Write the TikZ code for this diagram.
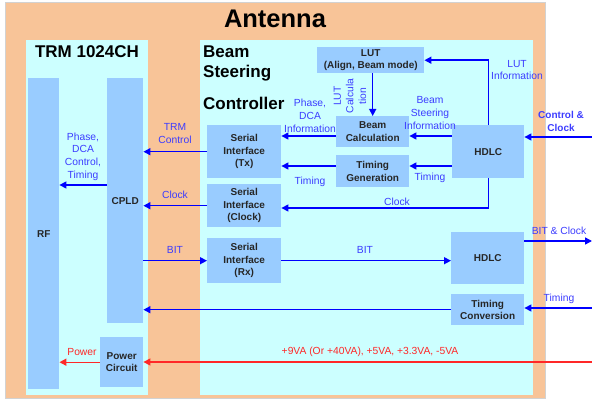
\documentclass[tikz,border=0pt]{standalone}
\usepackage{fontspec}
\setmainfont{Liberation Sans}
\usetikzlibrary{arrows.meta}
\definecolor{antorange}{RGB}{248,196,152}
\definecolor{pcyan}{RGB}{204,255,255}
\definecolor{boxblue}{RGB}{153,204,255}
\definecolor{arrblue}{RGB}{0,0,255}
\definecolor{lblblue}{RGB}{60,60,255}
\definecolor{pwred}{RGB}{255,40,40}
\begin{document}
\begin{tikzpicture}[x=1pt,y=-1pt,
  blk/.style={fill=boxblue, draw=none, font=\bfseries\fontsize{10}{12.5}\selectfont, align=center, inner sep=0pt, anchor=north west, text=black!85},
  lbl/.style={text=lblblue, font=\fontsize{10.3}{12.7}\selectfont, align=center, inner sep=0pt},
  rlbl/.style={text=pwred, font=\fontsize{10.3}{12.7}\selectfont, align=center, inner sep=0pt},
  arr/.style={draw=arrblue, line width=1.4pt, -{Triangle[length=7pt,width=7pt]}},
  rarr/.style={draw=pwred, line width=1.4pt, -{Triangle[length=7pt,width=7pt]}},
]
\useasboundingbox (0,0) rectangle (592,401);
% containers
\node[fill=antorange, draw=gray!35, line width=0.8pt, anchor=north west, minimum width=540pt, minimum height=396pt, inner sep=0pt] (ant) at (5,2) {};
\node[font=\bfseries\fontsize{25.5}{28}\selectfont, inner sep=0pt] (anttitle) at (275,19) {Antenna};
\node[fill=pcyan, anchor=north west, minimum width=122pt, minimum height=355pt, inner sep=0pt] (trm) at (26,40) {};
\node[font=\bfseries\fontsize{17}{20}\selectfont, inner sep=0pt] (trmtitle) at (87,52) {TRM 1024CH};
\node[fill=pcyan, anchor=north west, minimum width=333pt, minimum height=355pt, inner sep=0pt] (bsc) at (200,40) {};
\node[font=\bfseries\fontsize{17}{20}\selectfont, inner sep=0pt, anchor=west] (bsc1) at (203,52) {Beam};
\node[font=\bfseries\fontsize{17}{20}\selectfont, inner sep=0pt, anchor=west] (bsc2) at (203,73) {Steering};
\node[font=\bfseries\fontsize{17}{20}\selectfont, inner sep=0pt, anchor=west] (bsc3) at (203,103) {Controller};
% blocks
\node[blk, minimum width=31pt, minimum height=311pt] (rf) at (28,78) {RF};
\node[blk, minimum width=36pt, minimum height=245pt] (cpld) at (107,78) {CPLD};
\node[blk, minimum width=43pt, minimum height=50pt] (pwr) at (100,337) {Power\\Circuit};
\node[blk, minimum width=74pt, minimum height=53pt] (sitx) at (207,125) {Serial\\Interface\\(Tx)};
\node[blk, minimum width=74pt, minimum height=43pt] (siclk) at (207,184) {Serial\\Interface\\(Clock)};
\node[blk, minimum width=74pt, minimum height=45pt] (sirx) at (207,238) {Serial\\Interface\\(Rx)};
\node[blk, minimum width=107pt, minimum height=26pt] (lut) at (317,47) {LUT\\(Align, Beam mode)};
\node[blk, minimum width=73pt, minimum height=31pt] (beam) at (336,116) {Beam\\Calculation};
\node[blk, minimum width=73pt, minimum height=32pt] (tgen) at (336,155) {Timing\\Generation};
\node[blk, minimum width=72pt, minimum height=53pt] (hdlcA) at (452,125) {HDLC};
\node[blk, minimum width=73pt, minimum height=52pt] (hdlcB) at (451,232) {HDLC};
\node[blk, minimum width=73pt, minimum height=31pt] (tconv) at (451,294) {Timing\\Conversion};
% helper coordinates
\coordinate (ccin) at (592,137);
\coordinate (yb) at (0,136);
\coordinate (yt) at (0,166);
\coordinate (yc) at (0,208);
\coordinate (yrf) at (0,185);
\coordinate (bitout) at (592,241);
\coordinate (tin) at (592,308);
\coordinate (pin) at (592,362);
% arrows
\draw[arr] (ccin) -- (ccin -| hdlcA.east);
\draw[arr] (hdlcA.north) |- (lut.east);
\draw[arr] (hdlcA.west |- yb) -- (beam.east |- yb);
\draw[arr] (beam.north |- lut.south) -- (beam.north);
\draw[arr] (hdlcA.west |- yt) -- (tgen.east |- yt);
\draw[arr] (beam.west |- yb) -- (sitx.east |- yb);
\draw[arr] (tgen.west |- yt) -- (sitx.east |- yt);
\draw[arr] (hdlcA.south) |- (siclk.east |- yc);
\draw[arr] (sitx.west) -- (sitx.west -| cpld.east);
\draw[arr] (siclk.west) -- (siclk.west -| cpld.east);
\draw[arr] (sirx.west -| cpld.east) -- (sirx.west);
\draw[arr] (sirx.east) -- (sirx.east -| hdlcB.west);
\draw[arr] (bitout -| hdlcB.east) -- (bitout);
\draw[arr] (tin) -- (tin -| tconv.east);
\draw[arr] (tconv.west) -- (tconv.west -| cpld.east);
\draw[arr] (cpld.west |- yrf) -- (rf.east |- yrf);
\draw[rarr] (pin) -- (pin -| pwr.east);
\draw[rarr] (pwr.west) -- (pwr.west -| rf.east);
% labels
\node[lbl, font=\bfseries\fontsize{10}{12.7}\selectfont] (lcc) at (561,121.5) {Control \&\\Clock};
\node[lbl] (llut) at (517,70) {LUT\\Information};
\node[lbl] (lbsi) at (430,113) {Beam\\Steering\\Information};
\node[lbl] (ltim1) at (430,178) {Timing};
\node[lbl, rotate=90] (llc) at (350,96) {LUT\\Calcula\\tion};
\node[lbl] (lpdi) at (310,116) {Phase,\\DCA\\Information};
\node[lbl] (ltim2) at (310,182) {Timing};
\node[lbl] (lclk1) at (397,202) {Clock};
\node[lbl] (ltrm) at (175,133.5) {TRM\\Control};
\node[lbl] (lclk2) at (175,195) {Clock};
\node[lbl] (lbit1) at (175,250) {BIT};
\node[lbl] (lbit2) at (365,250) {BIT};
\node[lbl] (lbc) at (559,231) {BIT \& Clock};
\node[lbl] (ltim3) at (559,299) {Timing};
\node[lbl] (lpdct) at (83,156.5) {Phase,\\DCA\\Control,\\Timing};
\node[rlbl] (lvolt) at (370,352) {+9VA (Or +40VA), +5VA, +3.3VA, -5VA};
\node[rlbl] (lpow) at (82,352) {Power};
\end{tikzpicture}
\end{document}
